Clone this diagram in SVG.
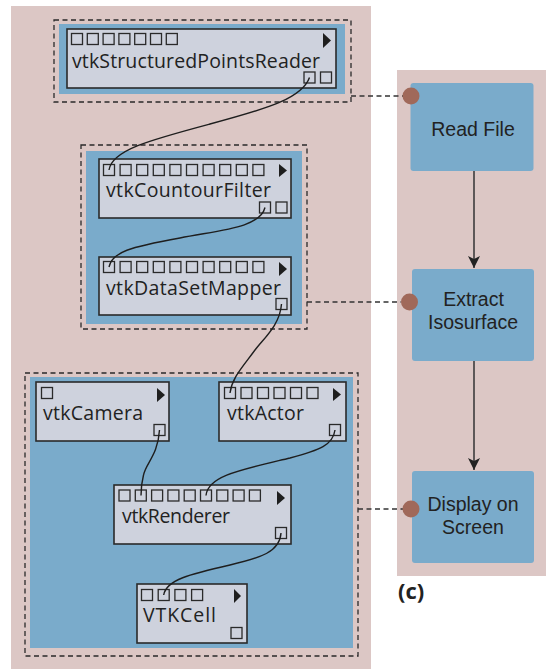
<svg xmlns="http://www.w3.org/2000/svg" width="548" height="669" viewBox="0 0 548 669">
<style>
.panel{fill:#dcc7c5}
.blue{fill:#7aabcb}
.grp{fill:none;stroke:#2a2a2a;stroke-width:1.3;stroke-dasharray:5,3.5}
.box{fill:#ced2dd;stroke:#2a2a2a;stroke-width:1.6}
.sq{fill:none;stroke:#2a2a2a;stroke-width:1.3}
.tri{fill:#1e1e1e}
.lbl{font-family:"Open Sans","Liberation Sans",sans-serif;font-size:19.5px;fill:#222}
.step{fill:#7aabcb}
.slbl{font-family:"Liberation Sans","Open Sans",sans-serif;font-size:19.5px;fill:#222;text-anchor:middle}
.wire{fill:none;stroke:#1e1e1e;stroke-width:1.4}
.dash{fill:none;stroke:#333;stroke-width:1.3;stroke-dasharray:5,3.5}
.dot{fill:#a0695a}
.flow{fill:none;stroke:#333;stroke-width:1.5}
</style>
<defs>
<marker id="ah" markerUnits="userSpaceOnUse" markerWidth="14" markerHeight="14" refX="12" refY="6" orient="auto">
<path d="M0,0 L12,6 L0,12 L3,6 z" fill="#222"/>
</marker>
</defs>

<rect class="panel" x="11" y="6" width="360" height="663"/>
<rect class="panel" x="397" y="70" width="149" height="506"/>

<g id="group-reader">
<rect class="grp" x="54" y="20" width="297" height="82"/>
<rect class="blue" x="59" y="24" width="286" height="70"/>
</g>
<g id="group-filter-mapper">
<rect class="grp" x="81" y="145" width="226" height="184"/>
<rect class="blue" x="86" y="151" width="216" height="173"/>
</g>
<g id="group-display">
<rect class="grp" x="25" y="373" width="333" height="283"/>
<rect class="blue" x="30" y="377" width="323" height="271"/>
</g>

<g id="vtkStructuredPointsReader">
<rect class="box" x="67" y="29" width="269" height="59"/>
<rect class="sq" x="71.5" y="33.5" width="11" height="11"/>
<rect class="sq" x="87.3" y="33.5" width="11" height="11"/>
<rect class="sq" x="103.1" y="33.5" width="11" height="11"/>
<rect class="sq" x="118.9" y="33.5" width="11" height="11"/>
<rect class="sq" x="134.7" y="33.5" width="11" height="11"/>
<rect class="sq" x="150.5" y="33.5" width="11" height="11"/>
<rect class="sq" x="166.3" y="33.5" width="11" height="11"/>
<polygon class="tri" points="323,33 331,40.5 323,48"/>
<text class="lbl" x="72" y="68" textLength="248">vtkStructuredPointsReader</text>
<rect class="sq" x="304" y="72" width="11" height="11"/>
<rect class="sq" x="320.5" y="72" width="11" height="11"/>
</g>

<g id="vtkCountourFilter">
<rect class="box" x="99" y="159" width="192" height="59"/>
<rect class="sq" x="103.5" y="164.5" width="11" height="11"/>
<rect class="sq" x="120.1" y="164.5" width="11" height="11"/>
<rect class="sq" x="136.7" y="164.5" width="11" height="11"/>
<rect class="sq" x="153.3" y="164.5" width="11" height="11"/>
<rect class="sq" x="169.9" y="164.5" width="11" height="11"/>
<rect class="sq" x="186.5" y="164.5" width="11" height="11"/>
<rect class="sq" x="203.1" y="164.5" width="11" height="11"/>
<rect class="sq" x="219.7" y="164.5" width="11" height="11"/>
<rect class="sq" x="236.3" y="164.5" width="11" height="11"/>
<rect class="sq" x="252.9" y="164.5" width="11" height="11"/>
<polygon class="tri" points="279,164 287,170.5 279,177"/>
<text class="lbl" x="106" y="197" textLength="165">vtkCountourFilter</text>
<rect class="sq" x="259.5" y="202" width="11" height="11"/>
<rect class="sq" x="276" y="202" width="11" height="11"/>
</g>

<g id="vtkDataSetMapper">
<rect class="box" x="99" y="257" width="192" height="58"/>
<rect class="sq" x="103.5" y="261.5" width="11" height="11"/>
<rect class="sq" x="120.1" y="261.5" width="11" height="11"/>
<rect class="sq" x="136.7" y="261.5" width="11" height="11"/>
<rect class="sq" x="153.3" y="261.5" width="11" height="11"/>
<rect class="sq" x="169.9" y="261.5" width="11" height="11"/>
<rect class="sq" x="186.5" y="261.5" width="11" height="11"/>
<rect class="sq" x="203.1" y="261.5" width="11" height="11"/>
<rect class="sq" x="219.7" y="261.5" width="11" height="11"/>
<rect class="sq" x="236.3" y="261.5" width="11" height="11"/>
<rect class="sq" x="252.9" y="261.5" width="11" height="11"/>
<polygon class="tri" points="279,262 287,269 279,276"/>
<text class="lbl" x="106" y="295" textLength="175">vtkDataSetMapper</text>
<rect class="sq" x="276" y="298.5" width="11" height="11"/>
</g>

<g id="vtkCamera">
<rect class="box" x="36" y="382" width="133" height="59"/>
<rect class="sq" x="41.5" y="387.5" width="11" height="11"/>
<polygon class="tri" points="157,388 165,395 157,402"/>
<text class="lbl" x="43" y="420" textLength="100">vtkCamera</text>
<rect class="sq" x="154" y="424.5" width="11" height="11"/>
</g>

<g id="vtkActor">
<rect class="box" x="219" y="382" width="127" height="59"/>
<rect class="sq" x="224.5" y="387.5" width="11" height="11"/>
<rect class="sq" x="241" y="387.5" width="11" height="11"/>
<rect class="sq" x="257.5" y="387.5" width="11" height="11"/>
<rect class="sq" x="274" y="387.5" width="11" height="11"/>
<rect class="sq" x="290.5" y="387.5" width="11" height="11"/>
<rect class="sq" x="307" y="387.5" width="11" height="11"/>
<polygon class="tri" points="333,388 341,394.5 333,401"/>
<text class="lbl" x="227" y="420" textLength="77">vtkActor</text>
<rect class="sq" x="329.5" y="424.5" width="11" height="11"/>
</g>

<g id="vtkRenderer">
<rect class="box" x="114" y="485" width="177" height="59"/>
<rect class="sq" x="119" y="490" width="11" height="11"/>
<rect class="sq" x="135.3" y="490" width="11" height="11"/>
<rect class="sq" x="151.6" y="490" width="11" height="11"/>
<rect class="sq" x="167.9" y="490" width="11" height="11"/>
<rect class="sq" x="184.2" y="490" width="11" height="11"/>
<rect class="sq" x="200.5" y="490" width="11" height="11"/>
<rect class="sq" x="216.8" y="490" width="11" height="11"/>
<rect class="sq" x="233.1" y="490" width="11" height="11"/>
<rect class="sq" x="249.4" y="490" width="11" height="11"/>
<polygon class="tri" points="277,491 285,498 277,505"/>
<text class="lbl" x="122" y="523" textLength="108">vtkRenderer</text>
<rect class="sq" x="275.5" y="527.5" width="11" height="11"/>
</g>

<g id="VTKCell">
<rect class="box" x="137" y="584" width="110" height="59"/>
<rect class="sq" x="141.5" y="589.5" width="11" height="11"/>
<rect class="sq" x="158.2" y="589.5" width="11" height="11"/>
<rect class="sq" x="174.9" y="589.5" width="11" height="11"/>
<rect class="sq" x="191.6" y="589.5" width="11" height="11"/>
<polygon class="tri" points="234,589 241,596 234,603"/>
<text class="lbl" x="143" y="622" textLength="73">VTKCell</text>
<rect class="sq" x="231" y="627.5" width="11" height="11"/>
</g>

<g id="read-file">
<rect class="step" x="410.5" y="83" width="123" height="88" rx="3"/>
<text class="slbl" x="473" y="136">Read File</text>
</g>
<g id="extract-isosurface">
<rect class="step" x="412" y="269" width="122" height="92" rx="3"/>
<text class="slbl" x="473.5" y="306">Extract</text>
<text class="slbl" x="473" y="329">Isosurface</text>
</g>
<g id="display-on-screen">
<rect class="step" x="412" y="471" width="122" height="92" rx="3"/>
<text class="slbl" x="473" y="511">Display on</text>
<text class="slbl" x="473" y="534">Screen</text>
</g>

<g id="connectors">
<path class="wire" d="M309.5,77.5 C302,98 270,108 210,124 C150,140 112,150 109,170"/>
<path class="wire" d="M265,207.5 C260,228 220,230 180,238 C130,247 112,252 109,267"/>
<path class="wire" d="M281.5,304 C280,325 264,338 255,350 C241,369 232,378 230,393"/>
<path class="wire" d="M159.5,430 C158,455 146,463 143.5,475 C141.5,483 141,488 141,495.5"/>
<path class="wire" d="M335,430 C333,445 320,450 290,458 C240,470 208,476 206,495.5"/>
<path class="wire" d="M281,533 C280,552 260,558 230,565 C190,574 166,580 163.7,595"/>
<path class="dash" d="M351,96 H403"/>
<path class="dash" d="M307,302 H401"/>
<path class="dash" d="M358,509 H403"/>
<circle class="dot" cx="411" cy="96" r="8.5"/>
<circle class="dot" cx="409.5" cy="302" r="8.5"/>
<circle class="dot" cx="411" cy="509" r="8.5"/>
<path class="flow" d="M474,171 V268" marker-end="url(#ah)"/>
<path class="flow" d="M474,361 V470" marker-end="url(#ah)"/>
</g>

<text x="398" y="599" style="font-family:'Open Sans','Liberation Sans',sans-serif;font-size:22px;font-weight:bold;fill:#222">(c)</text>
</svg>
